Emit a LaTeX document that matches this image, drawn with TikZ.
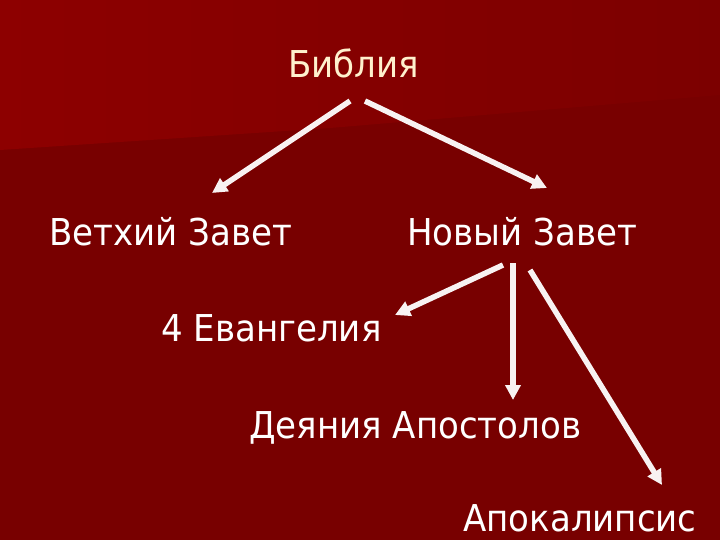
\documentclass[tikz,border=0pt]{standalone}
\usepackage{fontspec}
\setmainfont{DejaVu Sans}
\newfontfamily\slidefont[FakeStretch=0.92]{DejaVu Sans}
\usetikzlibrary{arrows.meta}
\definecolor{bgdark}{RGB}{120,0,0}
\definecolor{bglight}{RGB}{141,0,0}
\definecolor{bgmid}{RGB}{124,0,0}
\definecolor{cream}{RGB}{255,240,205}
\definecolor{arrowwhite}{RGB}{248,242,242}
\tikzset{
  lbl/.style={anchor=base west, inner sep=0pt, text=white, font=\slidefont\fontsize{37}{44}\selectfont},
  title/.style={lbl, text=cream},
  arr/.style={draw=arrowwhite, line width=5.5pt, -{Triangle[length=15pt,width=15pt]}}
}
\begin{document}
\begin{tikzpicture}[x=1pt,y=-1pt]
\useasboundingbox (0,0) rectangle (720,540);
\fill[bgdark] (0,0) rectangle (720,540);
\shade[left color=bglight, right color=bgmid] (0,0) -- (720,0) -- (720,95) -- (330,128) -- (0,150) -- cycle;
% texts
\node[title] (bib) at (288,78) {Библия};
\node[lbl] (vz) at (49,245) {Ветхий Завет};
\node[lbl] (nz) at (407,245) {Новый Завет};
\node[lbl] (ev) at (161,341) {4 Евангелия};
\node[lbl] (da) at (249,438) {Деяния Апостолов};
\node[lbl] (ap) at (463,531) {Апокалипсис};
% arrow ends
\coordinate (b1) at (350,101);
\coordinate (b2) at (365,101);
\coordinate (v1) at (212,193);
\coordinate (n1) at (547,188);
\coordinate (s1) at (503,265);
\coordinate (s2) at (513,263);
\coordinate (s3) at (530,270);
\coordinate (e1) at (395,315);
\coordinate (d1) at (513,400);
\coordinate (p1) at (662,485);
\draw[arr] (b1) -- (v1);
\draw[arr] (b2) -- (n1);
\draw[arr] (s1) -- (e1);
\draw[arr] (s2) -- (d1);
\draw[arr] (s3) -- (p1);
\end{tikzpicture}
\end{document}
